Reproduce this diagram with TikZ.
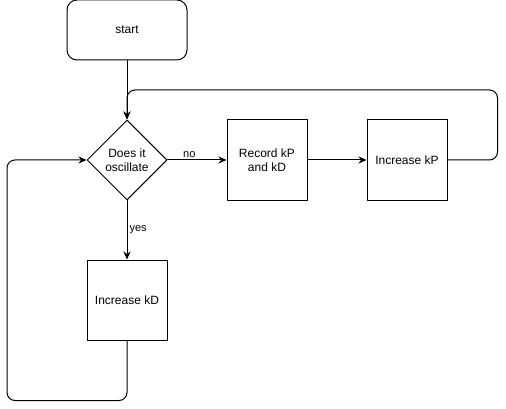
\documentclass[tikz,border=0pt]{standalone}
\usepackage{fontspec}
\setmainfont{Liberation Sans}
\usepackage{tikz}
\usetikzlibrary{positioning, arrows.meta, shapes.geometric}

\tikzset{
	block/.style={draw, line width=1pt, minimum width=80pt, minimum height=80pt, align=center, inner sep=2pt, font=\fontsize{12}{14}\selectfont},
	startbox/.style={block, rounded corners=10pt, minimum width=120pt, minimum height=60pt},
	decision/.style={block, diamond, aspect=1, minimum width=80pt, minimum height=80pt, inner sep=0pt},
	flow/.style={line width=1pt, -{Stealth[length=8pt, width=7pt]}},
	edgelabel/.style={font=\fontsize{11}{13}\selectfont, inner sep=1pt}
}

\begin{document}
\begin{tikzpicture}[x=1pt, y=-1pt, line cap=round, line join=round]
\useasboundingbox (0,0) rectangle (506,409);

\node[startbox] (start) at (127,30) {start};
\node[decision] (osc) at (127,160) {Does it\\oscillate};
\node[block] (record) at (267,160) {Record kP\\and kD};
\node[block] (incp) at (407,160) {Increase kP};
\node[block] (incd) at (127,300) {Increase kD};

\draw[flow] (start) -- (osc);
\draw[flow] (osc) -- node[edgelabel, pos=.37, above=1pt]{no} (record);
\draw[flow] (record) -- (incp);
\draw[flow] (osc) -- node[edgelabel, pos=.5, right=1pt]{yes} (incd);

% loops back to the decision
\draw[flow, rounded corners=8pt] (incp.east) -- ++(50,0) -- ++(0,-70) -| (osc.north);
\draw[flow, rounded corners=8pt] (incd.south) -- ++(0,60) -- ++(-120,0) |- (osc.west);

\end{tikzpicture}
\end{document}
